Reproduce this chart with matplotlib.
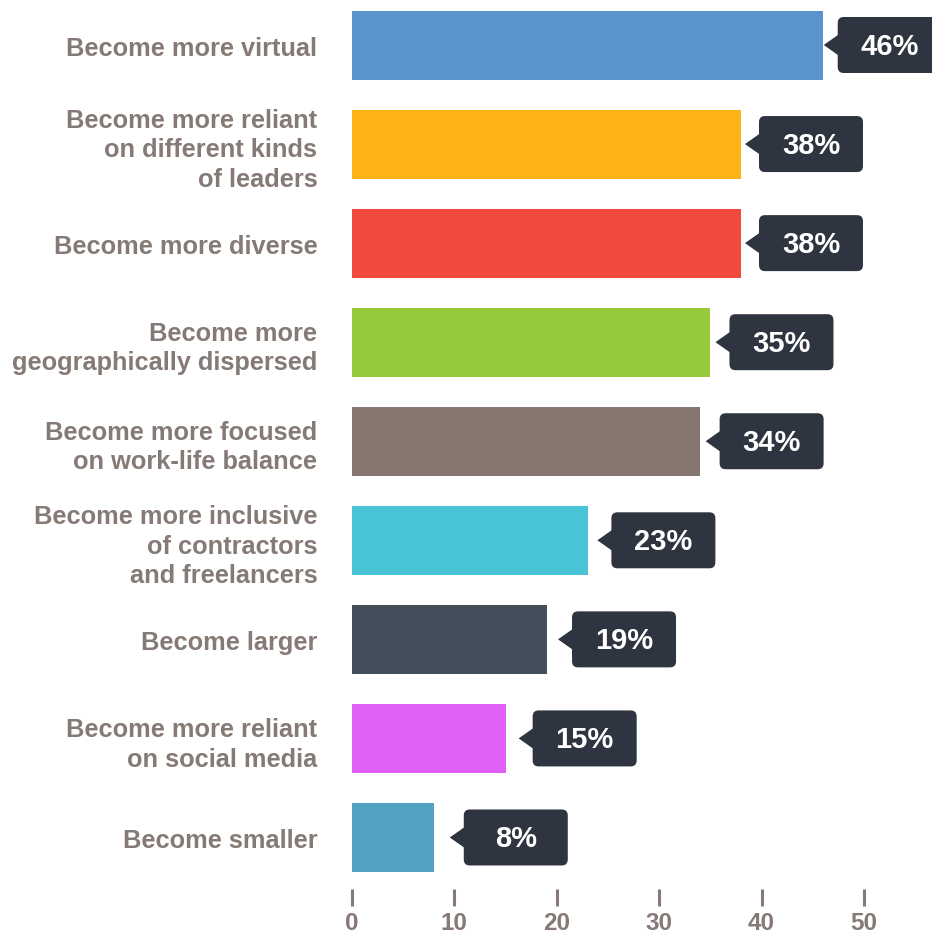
import matplotlib
matplotlib.use("Agg")
import matplotlib.pyplot as plt
from matplotlib.patches import FancyBboxPatch, Polygon

plt.rcParams['font.family'] = ['Liberation Sans', 'DejaVu Sans']
plt.rcParams['font.weight'] = 'bold'

categories = [
    "Become more virtual",
    "Become more reliant\non different kinds\nof leaders",
    "Become more diverse",
    "Become more\ngeographically dispersed",
    "Become more focused\non work-life balance",
    "Become more inclusive\nof contractors\nand freelancers",
    "Become larger",
    "Become more reliant\non social media",
    "Become smaller",
]
values = [46, 38, 38, 35, 34, 23, 19, 15, 8]
value_labels = ["46%", "38%", "38%", "35%", "34%", "23%", "19%", "15%", "8%"]
bar_colors = ["#5b93cc", "#fdb316", "#f04a3e", "#97c93d", "#857670",
              "#49c3d6", "#444f5c", "#e060f5", "#51a3c1"]
xticks = [0, 10, 20, 30, 40, 50]

GRAY = "#857a75"
CALLOUT = "#2e3440"

W, H = 932, 937
fig = plt.figure(figsize=(W / 100, H / 100), dpi=100)
ax_left, ax_bottom = 352, 890
ax = fig.add_axes([ax_left / W, (H - ax_bottom) / H, (W - ax_left) / W, ax_bottom / H])

px_x = 1 / 10.24      # data units per pixel (x)
row_px = 99.06        # pixels per category row
px_y = 1 / row_px     # data units per pixel (y)
top_c = 46.0          # first bar centre in pixels from top

ax.set_xlim(0, (W - ax_left) * px_x)
ax.set_ylim((ax_bottom - top_c) * px_y, -top_c * px_y)

n = len(values)
ypos = list(range(n))
ax.barh(ypos, values, height=69 * px_y, color=bar_colors, zorder=2)

box_w, box_h = 104 * px_x, 56 * px_y
gap = 14 * px_x
half_ptr = 12 * px_y
rnd = 6 * px_x
for y, v, lab in zip(ypos, values, value_labels):
    tip = 1.86 + 0.961 * v
    bx = tip + gap
    ax.add_patch(FancyBboxPatch((bx, y - box_h / 2), box_w, box_h,
                                boxstyle=f"round,pad=0,rounding_size={rnd}",
                                mutation_aspect=px_y / px_x,
                                facecolor=CALLOUT, edgecolor="none", zorder=3))
    ax.add_patch(Polygon([(tip, y), (bx + 0.3, y - half_ptr), (bx + 0.3, y + half_ptr)],
                         closed=True, facecolor=CALLOUT, edgecolor="none", zorder=3))
    ax.text(bx + box_w / 2, y + 1 * px_y, lab, color="white", fontsize=21, fontweight="bold",
            ha="center", va="center", zorder=4)

ax.set_yticks(ypos)
ax.set_yticklabels(categories, fontsize=18.3, fontweight="bold", color=GRAY,
                   linespacing=1.3, ha="right")
ax.tick_params(axis="y", length=0, pad=25)

ax.set_xticks(xticks)
ax.set_xticklabels([str(t) for t in xticks], fontsize=17.5, fontweight="bold", color=GRAY)
ax.tick_params(axis="x", direction="out", length=12.2, width=2.2, color=GRAY, pad=4)

for s in ax.spines.values():
    s.set_visible(False)

fig.savefig("out.png", dpi=100, facecolor="white")
